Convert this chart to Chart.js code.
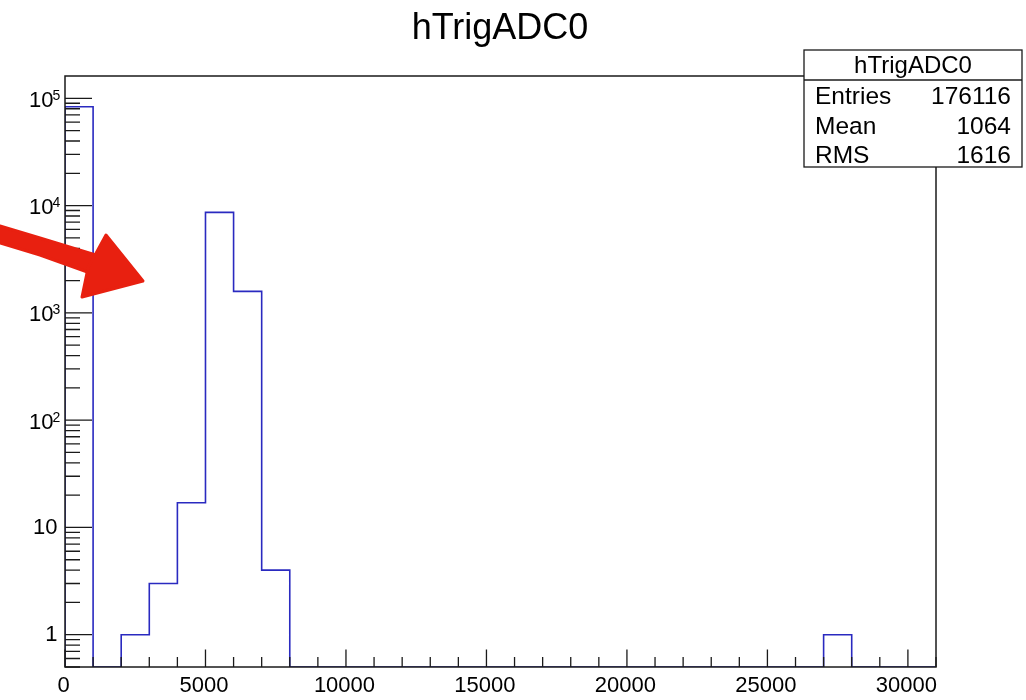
<!DOCTYPE html>
<html>
<head>
<meta charset="utf-8">
<script src="https://cdn.jsdelivr.net/npm/chart.js@4"></script>
<style>
html,body{margin:0;padding:0;background:#fff;}
#wrap{width:1026px;height:700px;position:relative;}
</style>
</head>
<body>
<div id="wrap"><canvas id="c" width="1026" height="700"></canvas></div>
<script>
// ---- data ----
const histTitle = 'hTrigADC0';
const binLowEdges = [0,1000,2000,3000,4000,5000,6000,7000,8000,9000,10000,11000,12000,13000,14000,15000,
  16000,17000,18000,19000,20000,21000,22000,23000,24000,25000,26000,27000,28000,29000,30000];
const binWidth = 1000;
const binCounts = [83500,0,1,3,17,8650,1585,4,0,0,0,0,0,0,0,0,
  0,0,0,0,0,0,0,0,0,0,0,1,0,0,0];
const xMin = 0, xMax = 31000;
const yMin = 0.5, yMax = 161500;
const xMajorTicks = [0,5000,10000,15000,20000,25000,30000];
const xTickLabels = ['0','5000','10000','15000','20000','25000','30000'];
const yDecades = [1,10,100,1000,10000,100000];
const yTickBase = ['1','10','10','10','10','10'];
const yTickExp  = ['','','2','3','4','5'];
const statNames = ['Entries','Mean','RMS'];
const statValues = ['176116','1064','1616'];

// build step outline points (zero bins drawn on the bottom axis as in ROOT)
const pts = [{x: binLowEdges[0], y: yMin}];
binLowEdges.forEach((e,i)=>pts.push({x:e, y: binCounts[i] > 0 ? binCounts[i] : yMin}));
pts.push({x: binLowEdges[binLowEdges.length-1] + binWidth, y: yMin});

const FONT = '"Liberation Sans", Arial, Helvetica, sans-serif';
const frameColor = '#1a1a1a';
const textColor = '#000';

const rootStyle = {
  id: 'rootStyle',
  beforeDraw(chart){
    const ctx = chart.ctx;
    ctx.save();
    ctx.fillStyle = '#fff';
    ctx.fillRect(0,0,chart.width,chart.height);
    ctx.restore();
  },
  afterDatasetsDraw(chart){
    const ctx = chart.ctx;
    const a = chart.chartArea;
    const xs = chart.scales.x, ys = chart.scales.y;
    ctx.save();
    // frame
    ctx.strokeStyle = frameColor;
    ctx.lineWidth = 1.5;
    ctx.strokeRect(a.left, a.top, a.right - a.left, a.bottom - a.top);

    // x ticks (inside, pointing up)
    ctx.lineWidth = 1.3;
    ctx.beginPath();
    for (let v = xMin; v <= xMax; v += 1000) {
      const px = xs.getPixelForValue(v);
      const len = (v % 5000 === 0) ? 17.5 : 10;
      ctx.moveTo(px, a.bottom);
      ctx.lineTo(px, a.bottom - len);
    }
    ctx.stroke();

    // y ticks (inside, pointing right)
    ctx.beginPath();
    const decadesAll = [0.1].concat(yDecades);
    decadesAll.forEach(d=>{
      for (let m = 1; m <= 9; m++) {
        const v = d*m;
        if (v < yMin || v > yMax) continue;
        const py = ys.getPixelForValue(v);
        const len = (m === 1) ? 27 : 15;
        ctx.moveTo(a.left, py);
        ctx.lineTo(a.left + len, py);
      }
    });
    ctx.stroke();

    // x labels
    ctx.fillStyle = textColor;
    ctx.font = '22px ' + FONT;
    ctx.textAlign = 'center';
    ctx.textBaseline = 'alphabetic';
    xMajorTicks.forEach((v,i)=>{
      ctx.fillText(xTickLabels[i], xs.getPixelForValue(v) - 1.5, 691.5);
    });

    // y labels
    yDecades.forEach((v,i)=>{
      const py = ys.getPixelForValue(v);
      if (yTickExp[i] === '') {
        ctx.font = '22px ' + FONT;
        ctx.textAlign = 'right';
        ctx.textBaseline = 'middle';
        ctx.fillText(yTickBase[i], 57.5, py + 0.5);
      } else {
        ctx.font = '22px ' + FONT;
        ctx.textAlign = 'right';
        ctx.textBaseline = 'middle';
        ctx.fillText(yTickBase[i], 53.5, py + 2.5);
        ctx.font = '14px ' + FONT;
        ctx.textAlign = 'left';
        ctx.textBaseline = 'alphabetic';
        ctx.fillText(yTickExp[i], 52.5, py + 1.5);
      }
    });

    // main title
    ctx.font = '36px ' + FONT;
    ctx.textAlign = 'center';
    ctx.textBaseline = 'alphabetic';
    ctx.fillText(histTitle, 500, 38.5);

    // stats box
    const bx0 = 804, bx1 = 1022, by0 = 50, by1 = 167, bsep = 80;
    ctx.fillStyle = '#fff';
    ctx.fillRect(bx0, by0, bx1 - bx0, by1 - by0);
    ctx.strokeStyle = frameColor;
    ctx.lineWidth = 1.3;
    ctx.strokeRect(bx0, by0, bx1 - bx0, by1 - by0);
    ctx.beginPath();
    ctx.moveTo(bx0, bsep); ctx.lineTo(bx1, bsep);
    ctx.stroke();
    ctx.fillStyle = textColor;
    ctx.font = '24px ' + FONT;
    ctx.textAlign = 'center';
    ctx.fillText(histTitle, (bx0 + bx1)/2, 73);
    ctx.font = '24.5px ' + FONT;
    const rowBase = [104, 133.5, 162.5];
    statNames.forEach((n,i)=>{
      ctx.textAlign = 'left';
      ctx.fillText(n, 815, rowBase[i]);
      ctx.textAlign = 'right';
      ctx.fillText(statValues[i], 1011, rowBase[i]);
    });

    // hand-drawn red annotation arrow
    ctx.fillStyle = 'rgb(232,32,16)';
    ctx.strokeStyle = 'rgb(232,32,16)';
    ctx.lineJoin = 'round';
    ctx.lineWidth = 3;
    ctx.beginPath();
    ctx.moveTo(0, 226);
    ctx.lineTo(40, 238);
    ctx.lineTo(99, 256);
    ctx.lineTo(93, 274);
    ctx.lineTo(40, 255);
    ctx.lineTo(0, 243);
    ctx.closePath();
    ctx.fill(); ctx.stroke();
    ctx.beginPath();
    ctx.moveTo(106, 235);
    ctx.lineTo(143, 281);
    ctx.lineTo(82, 297);
    ctx.lineTo(88, 268);
    ctx.closePath();
    ctx.fill(); ctx.stroke();
    ctx.restore();
  }
};

new Chart(document.getElementById('c'), {
  type: 'line',
  data: {
    datasets: [{
      data: pts,
      stepped: 'before',
      borderColor: '#2a2ac0',
      borderWidth: 1.6,
      pointRadius: 0,
      fill: false,
      tension: 0
    }]
  },
  options: {
    responsive: false,
    animation: false,
    events: [],
    layout: { padding: { left: 65, top: 76, right: 90, bottom: 33 } },
    plugins: { legend: { display: false }, title: { display: false }, tooltip: { enabled: false } },
    scales: {
      x: { type: 'linear', min: xMin, max: xMax, bounds: 'data', display: false },
      y: { type: 'logarithmic', min: yMin, max: yMax, bounds: 'data', display: false }
    }
  },
  plugins: [rootStyle]
});
</script>
</body>
</html>
